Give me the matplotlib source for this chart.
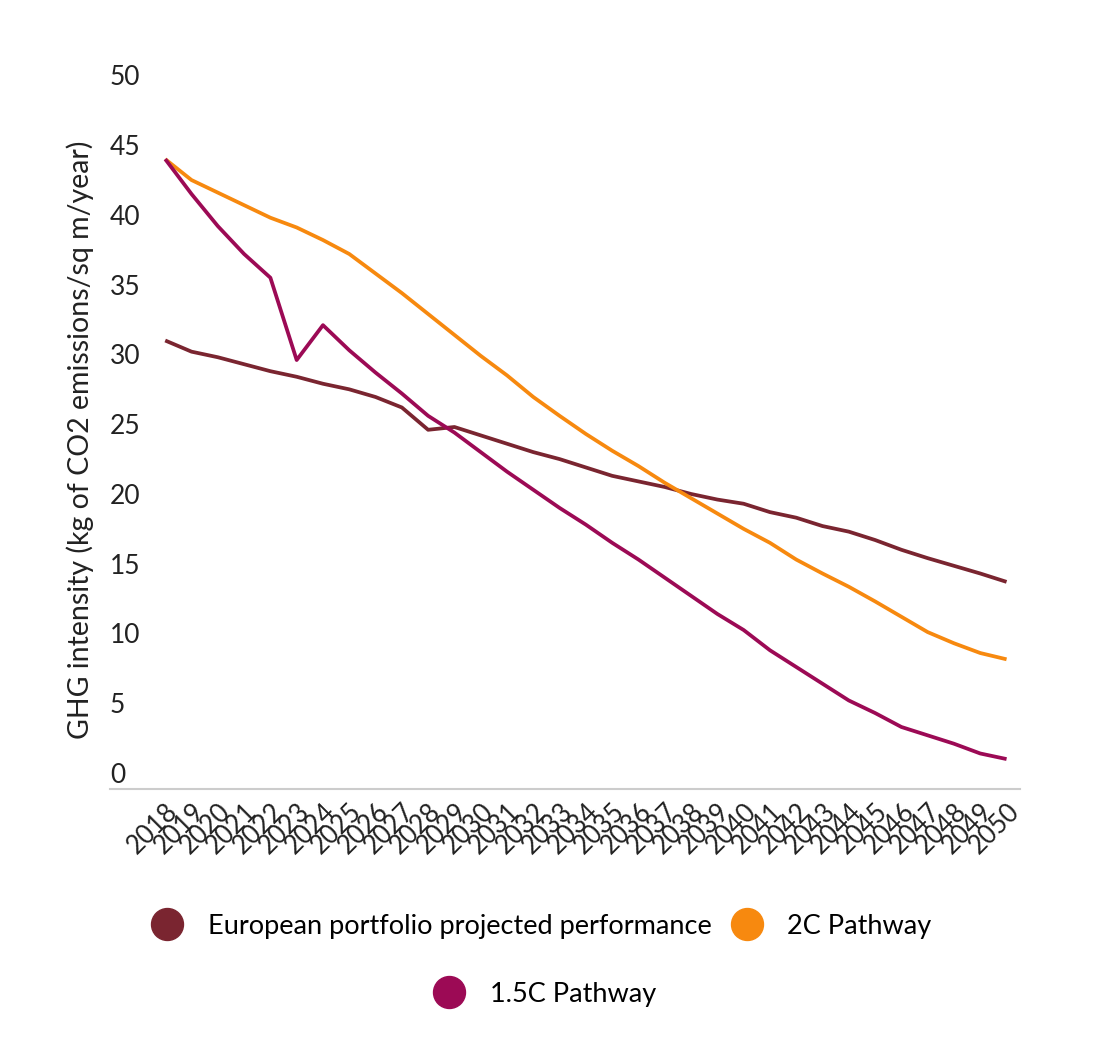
import matplotlib
matplotlib.use("Agg")
import matplotlib.pyplot as plt
from matplotlib.lines import Line2D

plt.rcParams["font.family"] = ["Lato", "DejaVu Sans"]

years = list(range(2018, 2051))

european = [31.0, 30.2, 29.8, 29.3, 28.8, 28.4, 27.9, 27.5, 26.95, 26.2, 24.6,
            24.8, 24.2, 23.6, 23.0, 22.5, 21.9, 21.3, 20.9, 20.5, 20.0, 19.6,
            19.3, 18.7, 18.3, 17.7, 17.3, 16.7, 16.0, 15.4, 14.85, 14.3, 13.7]
path_2c = [44.0, 42.5, 41.6, 40.7, 39.8, 39.1, 38.2, 37.2, 35.8, 34.4, 32.9,
           31.4, 29.9, 28.5, 26.95, 25.6, 24.3, 23.1, 22.0, 20.8, 19.7, 18.6,
           17.5, 16.5, 15.3, 14.3, 13.35, 12.3, 11.2, 10.1, 9.3, 8.6, 8.15]
path_15c = [44.0, 41.5, 39.2, 37.2, 35.5, 29.6, 32.1, 30.3, 28.7, 27.2, 25.6,
            24.4, 23.0, 21.6, 20.3, 19.0, 17.8, 16.5, 15.3, 14.0, 12.7, 11.4,
            10.25, 8.8, 7.6, 6.4, 5.2, 4.3, 3.3, 2.7, 2.1, 1.4, 1.0]

labels = ["European portfolio projected performance", "2C Pathway", "1.5C Pathway"]
colors = ["#7a2530", "#f7890f", "#9c0a55"]
yticks = [0, 5, 10, 15, 20, 25, 30, 35, 40, 45, 50]

fig = plt.figure(figsize=(11, 10.62), dpi=100)
ax = fig.add_axes([0.1, 0.257, 0.827, 0.672])

ax.plot(years, european, color=colors[0], lw=2.7, solid_capstyle="butt")
ax.plot(years, path_2c, color=colors[1], lw=2.7, solid_capstyle="butt")
ax.plot(years, path_15c, color=colors[2], lw=2.7, solid_capstyle="butt")

ax.set_xlim(2018 - 2.1, 2050.5)
ax.set_ylim(-1.15, 50)

for side in ["top", "right", "left"]:
    ax.spines[side].set_visible(False)
ax.spines["bottom"].set_color("#cccccc")
ax.spines["bottom"].set_linewidth(1.5)

ax.set_yticks(yticks)
ax.set_yticklabels([str(v) for v in yticks], fontsize=19, color="#222222")
ax.tick_params(axis="y", length=0, pad=0)
for lab in ax.get_yticklabels():
    lab.set_horizontalalignment("left")

ax.set_xticks(years)
ax.set_xticklabels([str(y) for y in years], fontsize=18.5, color="#222222",
                   rotation=45, ha="right", va="top", rotation_mode="anchor")
ax.tick_params(axis="x", length=0, pad=7)

ax.set_ylabel("GHG intensity (kg of CO2 emissions/sq m/year)", fontsize=20.5,
              color="#222222")
ax.yaxis.set_label_coords(-0.018, 0.49)

def handle(c):
    return Line2D([], [], linestyle="none", marker="o", markersize=23,
                  markerfacecolor=c, markeredgecolor=c)

fig.legend([handle(colors[0]), handle(colors[1])], labels[:2], ncol=2,
           loc="center", bbox_to_anchor=(0.487, 0.128), frameon=False,
           fontsize=19.5, handletextpad=0.5, columnspacing=0.3)
fig.legend([handle(colors[2])], labels[2:], loc="center",
           bbox_to_anchor=(0.49, 0.064), frameon=False, fontsize=19.5,
           handletextpad=0.5)

fig.savefig("out.png", dpi=100)
